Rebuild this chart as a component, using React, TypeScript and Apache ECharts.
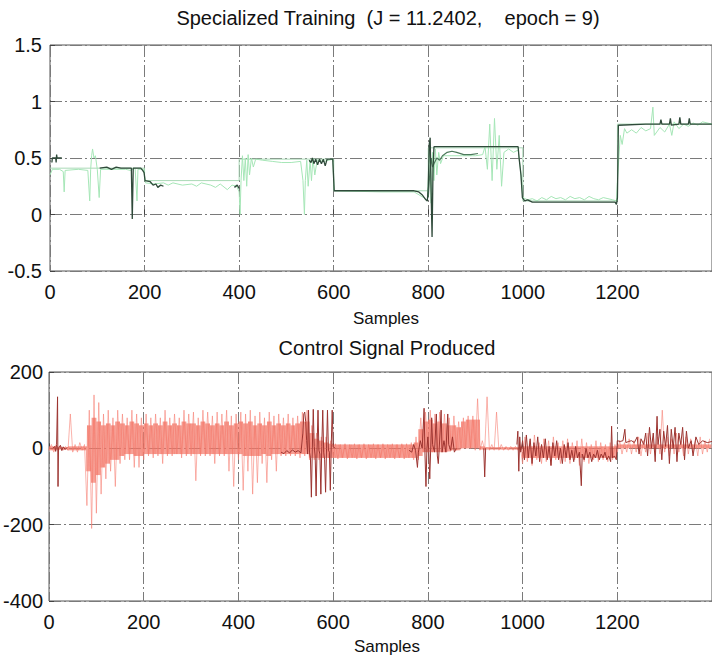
import React, { useEffect, useRef } from "react";
import * as echarts from "echarts";

const topTitle = "Specialized Training  (J = 11.2402,    epoch = 9)";
const bottomTitle = "Control Signal Produced";
const xName = "Samples";

// ---- top subplot ----
const topRef: [number, number][] = [
  [0, 0.41], [200, 0.41], [200, 0.3], [400, 0.3], [400, 0.49], [600, 0.49],
  [600, 0.21], [800, 0.21], [800, 0.59], [1000, 0.59], [1000, 0.12], [1200, 0.12],
  [1200, 0.8], [1400, 0.8],
];

const topNet: [number, number][] = [
  [0, 0.35], [5, 0.4], [20, 0.4], [28, 0.38], [30, 0.2], [32, 0.39], [60, 0.4], [80, 0.39],
  [84, 0.12], [86, 0.4], [88, 0.52], [90, 0.58], [93, 0.5], [96, 0.52], [100, 0.4], [104, 0.15],
  [107, 0.4], [130, 0.4], [160, 0.4], [170, 0.39], [180, 0.41], [184, 0.12], [186, 0.4], [198, 0.4],
  [202, 0.28], [220, 0.27], [240, 0.28], [250, 0.26], [260, 0.28], [280, 0.26], [300, 0.27],
  [310, 0.25], [320, 0.28], [340, 0.26], [350, 0.24], [360, 0.27], [375, 0.22], [385, 0.26],
  [395, 0.25], [400, 0.2], [402, 0.0], [404, 0.3], [407, 0.52], [410, 0.3], [413, 0.5],
  [416, 0.25], [419, 0.53], [422, 0.35], [426, 0.5], [430, 0.42], [435, 0.49], [450, 0.48],
  [470, 0.47], [490, 0.46], [510, 0.46], [530, 0.47], [535, 0.3], [538, 0.0], [540, 0.3],
  [543, 0.48], [546, 0.25], [550, 0.48], [553, 0.3], [556, 0.5], [560, 0.35], [565, 0.48],
  [580, 0.47], [598, 0.49], [601, 0.21], [700, 0.2], [770, 0.2], [790, 0.15], [798, 0.12],
  [800, 0.3], [803, 0.55], [806, 0.1], [809, 0.55], [812, 0.3], [815, 0.58], [818, 0.35],
  [822, 0.55], [826, 0.45], [832, 0.52], [850, 0.52], [880, 0.52], [900, 0.52], [915, 0.53],
  [920, 0.6], [925, 0.4], [930, 0.8], [935, 0.3], [940, 0.85], [945, 0.4], [950, 0.7],
  [955, 0.25], [960, 0.55], [970, 0.58], [980, 0.55], [990, 0.57], [995, 0.4], [1000, 0.15],
  [1010, 0.13], [1020, 0.14], [1030, 0.12], [1040, 0.15], [1050, 0.13], [1060, 0.16],
  [1070, 0.14], [1080, 0.15], [1090, 0.13], [1100, 0.16], [1110, 0.14], [1120, 0.15],
  [1130, 0.13], [1140, 0.16], [1150, 0.14], [1160, 0.13], [1170, 0.15], [1180, 0.14],
  [1190, 0.13], [1198, 0.12], [1200, 0.3], [1203, 0.5], [1206, 0.7], [1210, 0.62], [1215, 0.76],
  [1220, 0.72], [1230, 0.75], [1240, 0.72], [1250, 0.77], [1260, 0.74], [1270, 0.76],
  [1275, 0.95], [1278, 0.7], [1290, 0.77], [1300, 0.73], [1310, 0.8], [1315, 0.7], [1320, 0.82],
  [1330, 0.76], [1340, 0.8], [1350, 0.78], [1360, 0.81], [1370, 0.79], [1380, 0.82], [1400, 0.8],
];

const topPlant: any[] = [
  [4, 0.46], [5, 0.5], [12, 0.5], [13, 0.46], [14, 0.53], [15, 0.5], [25, 0.5], "-",
  [105, 0.41], [120, 0.42], [130, 0.4], [140, 0.42], [150, 0.41], [172, 0.41], [174, -0.04],
  [176, 0.41], [192, 0.41], [196, 0.39], [199, 0.37], [201, 0.3], [212, 0.29], [218, 0.26],
  [224, 0.27], [228, 0.24], [234, 0.26], [240, 0.25], "-",
  [390, 0.24], [396, 0.26], [400, 0.23], "-",
  [548, 0.48], [552, 0.46], [555, 0.5], [558, 0.45], [562, 0.49], [566, 0.44], [570, 0.49],
  [574, 0.45], [578, 0.49], [582, 0.43], [586, 0.49], [598, 0.49], [601, 0.21], [770, 0.21],
  [780, 0.2], [788, 0.17], [795, 0.13], [798, 0.12], [800, 0.25], [802, 0.62], [804, 0.68],
  [806, 0.2], [808, -0.2], [810, 0.4], [812, 0.6], [830, 0.6], [930, 0.6], [990, 0.6],
  [992, 0.5], [996, 0.35], [999, 0.15], [1004, 0.12], [1010, 0.13], [1020, 0.11], [1195, 0.11],
  [1198, 0.09], [1200, 0.15], [1202, 0.79], [1260, 0.8], [1290, 0.8], [1292, 0.84], [1294, 0.8],
  [1310, 0.8], [1312, 0.85], [1314, 0.79], [1330, 0.8], [1332, 0.86], [1334, 0.8], [1350, 0.8],
  [1352, 0.85], [1354, 0.8], [1400, 0.8],
];

const topPlant2: [number, number][] = [
  [800, 0.15], [803, 0.35], [806, 0.5], [809, 0.42], [812, 0.45], [818, 0.5], [824, 0.48],
  [830, 0.52], [840, 0.55], [850, 0.56], [860, 0.55], [875, 0.53], [890, 0.53], [905, 0.54],
];

// ---- bottom subplot: light red signal read per 10-sample bin (x = 0 .. 1390) ----
const redBinStep = 10;
// extreme excursions (thin streaks)
const redHi = [
  10, 10, 5, 5, 90, 10, 15, 10, 100, 140,
  120, 90, 100, 80, 100, 90, 80, 100, 90, 80,
  90, 80, 90, 80, 100, 80, 90, 80, 100, 90,
  95, 80, 100, 95, 85, 95, 90, 100, 85, 90,
  95, 90, 100, 85, 95, 80, 95, 85, 90, 80,
  90, 80, 85, 95, 100, 60, 40, 30, 30, 20,
  12, 10, 12, 10, 12, 10, 12, 10, 12, 10,
  12, 10, 12, 10, 12, 12, 15, 30, 80, 95,
  100, 90, 95, 90, 80, 85, 70, 80, 85, 85,
  130, 20, 135, 10, 95, 10, 5, 5, 5, 5,
  30, 20, 35, 15, 25, 20, 30, 15, 20, 25,
  15, 20, 25, 15, 10, 20, 15, 10, 15, 10,
  20, 15, 25, 20, 30, 20, 40, 25, 30, 100,
  30, 25, 40, 20, 30, 25, 20, 30, 20, 25,
];
const redLo = [
  -5, -10, -5, -5, -5, -10, -10, -5, -150, -210,
  -170, -120, -80, -60, -100, -40, -30, -30, -50, -50,
  -30, -20, -25, -20, -40, -20, -20, -15, -25, -20,
  -20, -85, -20, -20, -20, -40, -20, -20, -60, -100,
  -30, -110, -60, -120, -90, -40, -90, -30, -60, -20,
  -20, -20, -20, -25, -20, -30, -30, -30, -25, -25,
  -25, -28, -25, -28, -25, -28, -25, -28, -25, -28,
  -25, -28, -25, -28, -25, -28, -25, -30, -30, -10,
  -10, -10, -10, -10, -10, -5, -5, 0, 0, 0,
  -5, -5, -5, -5, -5, -5, -5, -5, -5, -5,
  -40, -35, -45, -30, -40, -35, -45, -30, -40, -35,
  -40, -30, -45, -35, -40, -30, -35, -30, -35, -30,
  -10, -15, -10, -15, -10, -20, -10, -15, -10, -15,
  -10, -20, -15, -10, -20, -15, -10, -20, -15, -10,
];
// dense core of the oscillation
const redCoreHi = [
  5, 5, 3, 3, 5, 5, 5, 5, 60, 80,
  70, 60, 65, 60, 70, 65, 60, 70, 65, 60,
  65, 60, 65, 60, 70, 60, 65, 60, 70, 65,
  65, 60, 70, 65, 60, 65, 60, 70, 60, 65,
  70, 65, 70, 60, 65, 60, 70, 60, 65, 60,
  65, 60, 65, 70, 70, 40, 25, 20, 15, 12,
  10, 10, 10, 10, 10, 10, 10, 10, 10, 10,
  10, 10, 10, 10, 10, 10, 10, 15, 50, 70,
  75, 65, 70, 65, 60, 60, 55, 70, 75, 75,
  75, 5, 3, 3, 3, 3, 3, 3, 3, 3,
  5, 5, 5, 5, 5, 5, 5, 5, 5, 5,
  5, 5, 5, 5, 5, 5, 5, 5, 5, 5,
  10, 10, 10, 10, 10, 10, 10, 10, 10, 10,
  10, 10, 10, 10, 10, 10, 10, 10, 10, 10,
];
const redCoreLo = [
  -5, -5, -3, -3, -5, -5, -5, -5, -60, -90,
  -70, -50, -40, -30, -30, -20, -15, -15, -20, -20,
  -15, -15, -15, -15, -15, -15, -15, -15, -15, -15,
  -15, -15, -15, -15, -15, -15, -15, -15, -15, -15,
  -15, -20, -20, -20, -20, -15, -20, -15, -15, -15,
  -15, -15, -15, -15, -15, -25, -25, -25, -25, -25,
  -25, -25, -25, -25, -25, -25, -25, -25, -25, -25,
  -25, -25, -25, -25, -25, -25, -25, -25, -20, -10,
  -10, -10, -10, -10, -8, -5, -5, 0, 0, 0,
  0, -3, -3, -3, -3, -3, -3, -3, -3, -3,
  -25, -25, -25, -25, -25, -25, -25, -25, -25, -25,
  -25, -25, -25, -25, -25, -25, -25, -25, -25, -25,
  0, 0, 0, 0, 0, 0, 0, 0, 0, 0,
  0, 0, 0, 0, 0, 0, 0, 0, 0, 0,
];

const darkRed: any[] = [
  [8, 0], [12, 5], [14, -8], [16, 10], [18, 135], [19, -100], [20, 0], [24, 8], [27, -6], [30, 4],
  [34, -3], [38, 2], "-",
  [490, -10], [496, -14], [502, -6], [508, -12], [514, -4], [520, -10], [526, -6], [532, -12],
  [536, 40], [538, 90], [540, 95], [542, 70], [544, 20], [546, -15], [548, 100], [550, -10],
  [552, -25], [554, -128], [556, 0], [558, 102], [560, 5], [562, -20], [564, -125], [566, 0],
  [568, 100], [570, -5], [572, -15], [574, -120], [576, 5], [578, 100], [580, -10], [582, -30],
  [584, -115], [586, 0], [588, 100], [590, -5], [592, -10], [594, -110], [596, 10], [598, 100],
  [600, 5], [604, 0], "-",
  [760, -5], [766, -10], [770, 10], [774, -5], [778, -50], [780, -10], [784, 20], [788, 0],
  [792, 105], [794, -20], [796, -100], [798, 0], [800, 30], [802, -10], [804, -80], [806, 0],
  [808, 80], [810, 10], [814, -10], [818, 90], [820, -20], [822, -40], [824, 0], [828, 100],
  [830, -10], [834, 20], [838, -10], [842, 90], [844, 10], [848, -5], [852, 30], [856, -10],
  [860, 0], "-",
  [918, 0], [920, -75], [922, 0], "-",
  [988, 10], [990, 45], [992, -60], [994, 30], [996, -10], [1000, 20], [1004, -30], [1008, 35],
  [1012, -25], [1016, 25], [1020, -40], [1024, 15], [1028, -20], [1032, 30], [1036, -35],
  [1040, 10], [1044, -25], [1048, 25], [1052, -30], [1056, 5], [1060, -45], [1064, 15],
  [1068, -20], [1072, 20], [1076, -30], [1080, 0], [1084, -40], [1088, 10], [1092, -25],
  [1096, 15], [1100, -30], [1104, -5], [1108, -35], [1112, 5], [1116, -25], [1120, -10],
  [1124, -98], [1126, -15], [1130, -30], [1134, 0], [1138, -25], [1142, -10], [1146, -35],
  [1150, -15], [1154, -25], [1158, -5], [1162, -30], [1166, -15], [1170, -25], [1174, -10],
  [1178, -30], [1182, -20], [1186, -35], [1188, 58], [1190, -25], [1194, -20], [1198, -30],
  [1200, 20], [1206, 18], [1212, 20], [1216, 50], [1218, 15], [1224, 18], [1230, 20], [1236, 15],
  [1242, 30], [1246, -15], [1250, 25], [1256, 10], [1260, 40], [1264, -20], [1268, 55], [1272, 0],
  [1276, 40], [1280, -35], [1284, 84], [1286, 10], [1290, 50], [1294, -30], [1298, 45], [1302, 5],
  [1306, 60], [1310, -40], [1314, 50], [1318, 0], [1322, 55], [1326, -35], [1330, 40], [1334, 10],
  [1338, 55], [1342, -30], [1346, 45], [1350, 0], [1356, 20], [1360, -20], [1366, 30], [1372, 10],
  [1380, 20], [1390, 15], [1400, 18],
];

const FONT = "'Liberation Sans', Arial, sans-serif";

function zigzag(lo: number[], hi: number[], sub: number): [number, number][] {
  const out: [number, number][] = [];
  lo.forEach((l, i) => {
    const x = i * redBinStep;
    for (let k = 0; k < sub; k++) {
      out.push([x + (k * redBinStep) / sub, k % 2 === 0 ? l : hi[i]]);
    }
  });
  return out;
}

export default function App() {
  const ref = useRef<HTMLDivElement>(null);
  useEffect(() => {
    if (!ref.current) return;
    const chart = echarts.init(ref.current, undefined, { renderer: "svg" });

    const redCore = zigzag(redCoreLo, redCoreHi, 8);
    const redStreaks = zigzag(redLo, redHi, 2);

    const gridLine = { show: true, lineStyle: { color: "#7a7a7a", width: 1, type: [12, 3, 2, 3] as any } };
    const axisLabel = { fontFamily: FONT, fontSize: 20, color: "#111", formatter: (v: number) => String(v) };
    const xAxisCommon = (gridIndex: number) => ({
      type: "value" as const,
      gridIndex,
      min: 0,
      max: 1400,
      interval: 200,
      axisLine: { show: false },
      axisTick: { show: true, inside: true, length: 5, lineStyle: { color: "#444" } },
      axisLabel: { ...axisLabel, margin: 11, showMaxLabel: false },
      splitLine: gridLine,
    });

    chart.setOption({
      animation: false,
      backgroundColor: "#fff",
      grid: [
        { left: 50, top: 45, height: 226, right: -14, show: true, borderColor: "#555", borderWidth: 1, backgroundColor: "transparent" },
        { left: 49, top: 372, height: 229, right: -14, show: true, borderColor: "#555", borderWidth: 1, backgroundColor: "transparent" },
      ],
      xAxis: [xAxisCommon(0), xAxisCommon(1)],
      yAxis: [
        {
          type: "value", gridIndex: 0, min: -0.5, max: 1.5, interval: 0.5,
          axisLine: { show: false },
          axisTick: { show: true, inside: true, length: 5, lineStyle: { color: "#444" } },
          axisLabel: { ...axisLabel, margin: 8 },
          splitLine: gridLine,
        },
        {
          type: "value", gridIndex: 1, min: -400, max: 200, interval: 200,
          axisLine: { show: false },
          axisTick: { show: true, inside: true, length: 5, lineStyle: { color: "#444" } },
          axisLabel: { ...axisLabel, margin: 6 },
          splitLine: gridLine,
        },
      ],
      series: [
        { type: "line", xAxisIndex: 0, yAxisIndex: 0, data: topRef, symbol: "none", silent: true,
          lineStyle: { color: "#a9d9b6", width: 1 } },
        { type: "line", xAxisIndex: 0, yAxisIndex: 0, data: topNet, symbol: "none", silent: true,
          lineStyle: { color: "#a6e6b7", width: 1 } },
        { type: "line", xAxisIndex: 0, yAxisIndex: 0, data: topPlant2, symbol: "none", silent: true,
          lineStyle: { color: "#4d7a5c", width: 1.2 } },
        { type: "line", xAxisIndex: 0, yAxisIndex: 0, data: topPlant, symbol: "none", silent: true,
          connectNulls: false, lineStyle: { color: "#2f4a3a", width: 1.3 } },
        { type: "line", xAxisIndex: 1, yAxisIndex: 1, data: redStreaks, symbol: "none", silent: true,
          lineStyle: { color: "rgba(246,128,116,0.6)", width: 1 } },
        { type: "line", xAxisIndex: 1, yAxisIndex: 1, data: redCore, symbol: "none", silent: true,
          lineStyle: { color: "rgba(244,118,104,0.6)", width: 1 } },
        { type: "line", xAxisIndex: 1, yAxisIndex: 1, data: darkRed, symbol: "none", silent: true,
          connectNulls: false, lineStyle: { color: "#9c3430", width: 1 } },
      ],
      graphic: [
        { type: "text", x: 388, y: 18, style: { text: topTitle, fontFamily: FONT, fontSize: 20, fill: "#111", align: "center", verticalAlign: "middle" } },
        { type: "text", x: 386, y: 318, style: { text: xName, fontFamily: FONT, fontSize: 17, fill: "#111", align: "center", verticalAlign: "middle" } },
        { type: "text", x: 387, y: 348, style: { text: bottomTitle, fontFamily: FONT, fontSize: 20, fill: "#111", align: "center", verticalAlign: "middle" } },
        { type: "text", x: 387, y: 646, style: { text: xName, fontFamily: FONT, fontSize: 17, fill: "#111", align: "center", verticalAlign: "middle" } },
      ],
    });
    return () => chart.dispose();
  }, []);
  return (
    <div
      ref={ref}
      style={{ position: "fixed", left: 0, top: 0, width: 712, height: 661, overflow: "hidden" }}
    />
  );
}
